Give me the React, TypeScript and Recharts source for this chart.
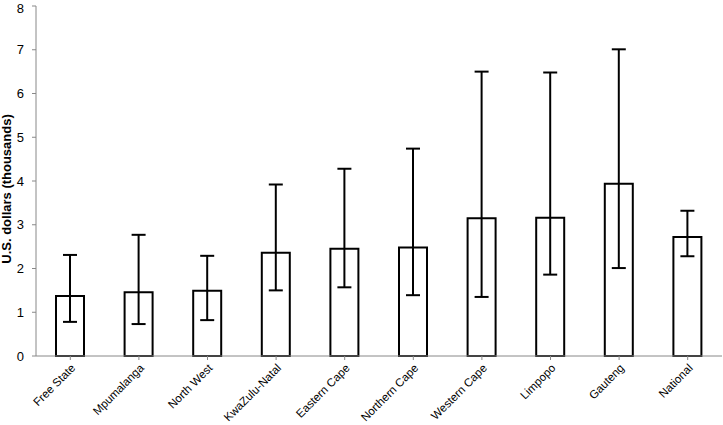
import React from "react";
import { BarChart, Bar, XAxis, YAxis, ErrorBar, Label } from "recharts";

const categories = [
  "Free State",
  "Mpumalanga",
  "North West",
  "KwaZulu-Natal",
  "Eastern Cape",
  "Northern Cape",
  "Western Cape",
  "Limpopo",
  "Gauteng",
  "National",
];
const means = [1.37, 1.46, 1.49, 2.36, 2.45, 2.48, 3.15, 3.16, 3.94, 2.72];
const lows = [0.78, 0.73, 0.82, 1.5, 1.57, 1.39, 1.35, 1.86, 2.01, 2.28];
const highs = [2.31, 2.77, 2.29, 3.92, 4.28, 4.74, 6.5, 6.48, 7.01, 3.32];
const yTicks = [0, 1, 2, 3, 4, 5, 6, 7, 8];

const data = categories.map((name, i) => ({
  name,
  value: means[i],
  err: [means[i] - lows[i], highs[i] - means[i]],
}));

const FONT = "'Liberation Sans', Arial, Helvetica, sans-serif";

export default function App() {
  return (
    <div style={{ position: "absolute", left: 0, top: 0, background: "#fff" }}>
      <BarChart
        width={723}
        height={425}
        data={data}
        margin={{ top: 6, right: 1, bottom: 0, left: 0 }}
        barSize={28}
      >
        <XAxis
          dataKey="name"
          interval={0}
          height={69}
          stroke="#888"
          tickSize={4}
          tickMargin={3}
          angle={-45}
          textAnchor="end"
          tick={{ fill: "#000", fontSize: 11.5, fontFamily: FONT }}
          tickLine={{ stroke: "#888" }}
          axisLine={{ stroke: "#888" }}
        />
        <YAxis
          domain={[0, 8]}
          ticks={yTicks}
          width={36}
          tickSize={4}
          tickMargin={8}
          stroke="#888"
          tick={{ fill: "#000", fontSize: 13, fontFamily: FONT }}
          tickLine={{ stroke: "#888" }}
          axisLine={{ stroke: "#888" }}
        >
          <Label
            content={() => (
              <text
                x={10.5}
                y={189}
                transform="rotate(-90, 10.5, 189)"
                textAnchor="middle"
                fontFamily={FONT}
                fontWeight="bold"
                fontSize={13}
                fill="#000"
              >
                U.S. dollars (thousands)
              </text>
            )}
          />
        </YAxis>
        <Bar
          dataKey="value"
          fill="#fff"
          stroke="#000"
          strokeWidth={2}
          isAnimationActive={false}
        >
          <ErrorBar
            dataKey="err"
            width={7}
            stroke="#000"
            strokeWidth={2}
            direction="y"
            isAnimationActive={false}
          />
        </Bar>
      </BarChart>
    </div>
  );
}
